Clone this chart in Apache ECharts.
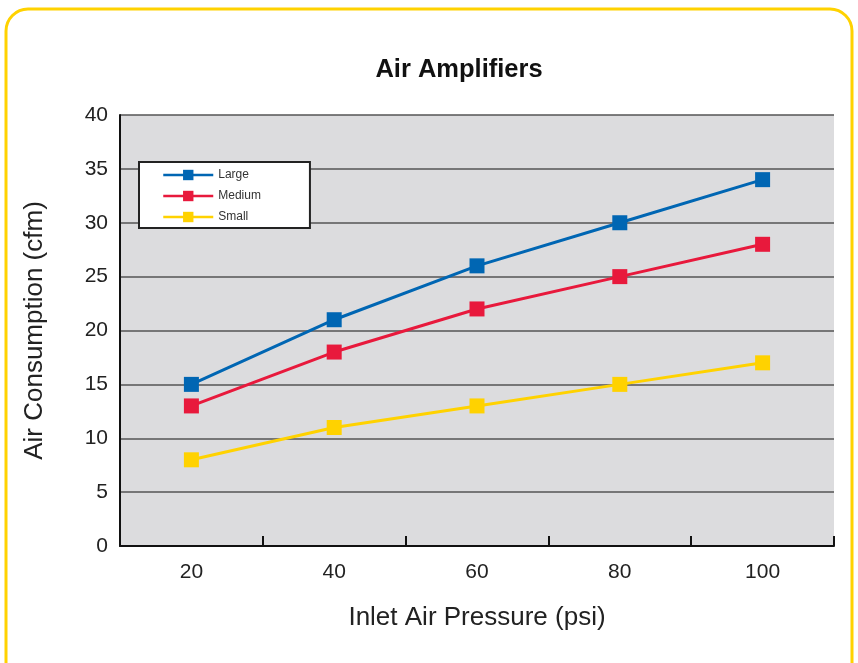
<!DOCTYPE html>
<html><head><meta charset="utf-8">
<script src="https://cdn.jsdelivr.net/npm/echarts@6/dist/echarts.min.js"></script>
<style>html,body{margin:0;padding:0;background:#fff}#c{width:858px;height:663px}</style>
</head><body><div id="c"></div>
<script>
const categories = ['20','40','60','80','100'];
const large = [15,21,26,30,34];
const medium = [13,18,22,25,28];
const small = [8,11,13,15,17];
const yTicks = {min:0, max:40, interval:5};

const FONT = 'Liberation Sans, Arial, sans-serif';
const chart = echarts.init(document.getElementById('c'), null, {renderer:'canvas'});
const mk = (name, data, color) => ({
  name, type:'line', data, symbol:'rect', symbolSize:15,
  lineStyle:{color, width:3}, itemStyle:{color}, z:3, animation:false
});
chart.setOption({
  animation:false,
  graphic:[{type:'rect', shape:{x:6,y:9,width:846,height:690,r:22}, style:{fill:'none',stroke:'#ffd200',lineWidth:3}, z:-1}],
  title:{text:'Air Amplifiers', left:454, top:52, textAlign:'center',
    textStyle:{fontFamily:FONT, fontSize:25.5, fontWeight:'bold', color:'#111'}},
  legend:{orient:'vertical', left:139, top:162, itemWidth:50, itemHeight:13, itemGap:9,
    padding:[7,49,5,23], backgroundColor:'#fff', borderColor:'#222', borderWidth:2,
    lineStyle:{width:2.5},
    textStyle:{fontFamily:FONT, fontSize:12, color:'#333'},
    data:['Large','Medium','Small']},
  grid:{left:120, right:24, top:115, bottom:117, show:true, backgroundColor:'#dcdcde', borderWidth:0},
  xAxis:{type:'category', data:categories, boundaryGap:true,
    name:'Inlet Air Pressure (psi)', nameLocation:'middle', nameGap:59,
    nameTextStyle:{fontFamily:FONT, fontSize:26, color:'#222'},
    axisLine:{lineStyle:{color:'#111', width:2}},
    axisTick:{show:true, inside:true, length:10, lineStyle:{color:'#111', width:2}},
    axisLabel:{margin:16, fontFamily:FONT, fontSize:21, color:'#222'}},
  yAxis:{type:'value', min:yTicks.min, max:yTicks.max, interval:yTicks.interval,
    name:'Air Consumption (cfm)', nameLocation:'middle', nameGap:72,
    nameTextStyle:{fontFamily:FONT, fontSize:26, color:'#222'},
    axisLine:{show:true, lineStyle:{color:'#111', width:2}},
    axisTick:{show:false},
    axisLabel:{margin:12, fontFamily:FONT, fontSize:21, color:'#222'},
    splitLine:{lineStyle:{color:'#555', width:1.5}}},
  series:[mk('Large',large,'#0066b3'), mk('Medium',medium,'#e8193c'), mk('Small',small,'#ffd200')]
});
</script></body></html>
